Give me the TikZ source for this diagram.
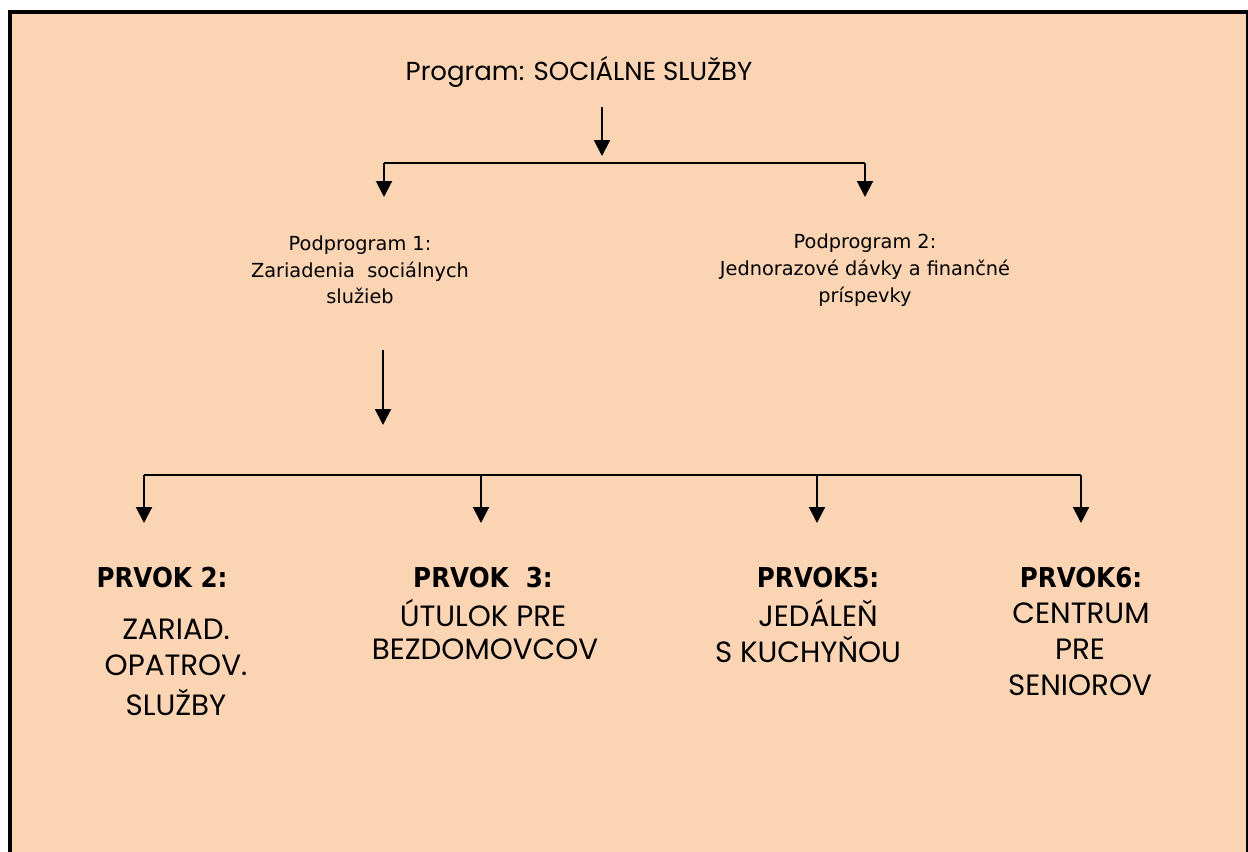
\documentclass[tikz,border=0pt]{standalone}
\usepackage{fontspec}
\setmainfont{Poppins}
\newfontfamily\verd{DejaVu Sans}
\newfontfamily\tahb{DejaVu Sans Condensed}
\usetikzlibrary{arrows.meta}
\definecolor{peach}{HTML}{FBD4B4}
\tikzset{
  arr/.style={line width=1.5pt,-{Triangle[length=12pt,width=12pt]}},
  ln/.style={line width=1.5pt},
  title/.style={inner sep=0pt,font=\fontsize{19.5}{22}\selectfont},
  sub/.style={inner sep=0pt,align=center,font=\verd\fontsize{14.5}{20}\selectfont},
  head/.style={inner sep=0pt,font=\tahb\bfseries\fontsize{20.5}{22}\selectfont},
  item/.style={inner sep=0pt,font=\fontsize{22}{24}\selectfont},
}
\begin{document}
\begin{tikzpicture}[x=0.75pt,y=-0.75pt]
\useasboundingbox (0,0) rectangle (1248,851);
\clip (0,0) rectangle (1248,851);
\draw[line width=3pt,fill=peach] (10,12) rectangle (1248,900);
% title
\node[title] (prog) at (579,72) {Program: SOCIÁLNE SLUŽBY};
\coordinate (a1s) at (602,107);
\coordinate (a1e) at (602,156);
\draw[arr] (a1s) -- (a1e);
\coordinate (h1l) at (384,163);
\coordinate (h1r) at (865,163);
\node[sub] (pp1) at (360,270) {Podprogram 1:\\Zariadenia\ \ sociálnych\\služieb};
\node[sub] (pp2) at (865,270) {Podprogram 2:\\Jednorazové dávky a finančné\\príspevky};
\coordinate (t1) at (384,197);
\coordinate (t2) at (865,197);
\draw[ln] (t1 |- h1l) -- (h1r);
\draw[arr] (h1l) -- (t1);
\draw[arr] (h1r) -- (t2);
% second level
\coordinate (a2s) at (383,350);
\coordinate (a2e) at (383,425);
\draw[arr] (a2s) -- (a2e);
\coordinate (b1) at (144,475);
\coordinate (b2) at (481,475);
\coordinate (b3) at (817,475);
\coordinate (b4) at (1081,475);
\draw[ln] (b1) -- (b4);
\coordinate (e1) at (144,523);
\coordinate (e2) at (481,523);
\coordinate (e3) at (817,523);
\coordinate (e4) at (1081,523);
\draw[arr] (b1) -- (e1);
\draw[arr] (b2) -- (e2);
\draw[arr] (b3) -- (e3);
\draw[arr] (b4) -- (e4);
% elements
\node[head] (h2) at (162,578) {PRVOK 2:};
\node[item] (i2a) at (176,629) {ZARIAD.};
\node[item] (i2b) at (176,665) {OPATROV.};
\node[item] (i2c) at (176,702) {SLUŽBY};
\node[head] (h3) at (483,578) {PRVOK\ \ 3:};
\node[item] (i3a) at (483,613) {ÚTULOK PRE};
\node[item] (i3b) at (485,649) {BEZDOMOVCOV};
\node[head] (h5) at (818,578) {PRVOK5:};
\node[item] (i5a) at (818,613) {JEDÁLEŇ};
\node[item] (i5b) at (808,649) {S KUCHYŇOU};
\node[head] (h6) at (1081,578) {PRVOK6:};
\node[item] (i6a) at (1081,613) {CENTRUM};
\node[item] (i6b) at (1080,649) {PRE};
\node[item] (i6c) at (1080,685) {SENIOROV};
\end{tikzpicture}
\end{document}
